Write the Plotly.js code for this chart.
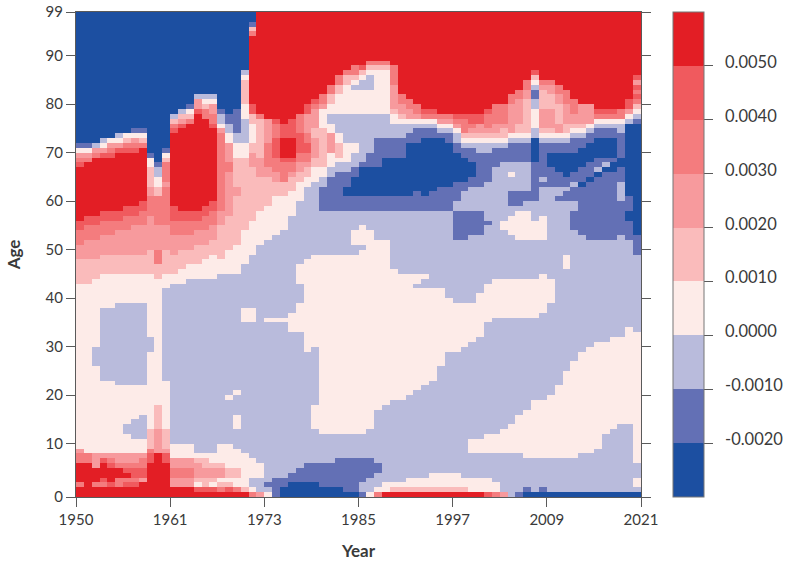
<!DOCTYPE html>
<html><head><meta charset="utf-8">
<script src="https://cdn.plot.ly/plotly-3.0.1.min.js"></script>
<style>html,body{margin:0;padding:0;background:#fff}</style></head>
<body><div id="chart" style="width:786px;height:561px"></div>
<script>
// Band index per age, one string per year. "L:A" = band L up to and including age A.
const bands1950to1961 = [
"8:1 6:2 8:6 6:8 5:9 3:43 4:48 5:51 6:54 7:56 8:67 7:68 6:69 5:70 3:71 1:72 0:99",
"8:6 6:8 3:43 4:48 5:52 6:55 7:57 8:68 6:69 5:70 3:71 1:72 0:99",
"8:1 6:2 8:5 5:8 3:26 2:30 3:44 4:48 5:52 6:55 7:57 8:69 6:70 5:71 2:72 0:99",
"8:1 6:2 7:3 8:6 7:7 5:8 3:23 2:38 3:45 4:49 5:53 6:56 7:58 8:69 7:70 5:71 3:72 2:73 0:99",
"8:1 7:2 8:5 7:6 6:7 5:8 3:23 2:38 3:45 4:49 5:53 6:56 7:58 8:69 7:70 6:71 5:72 3:73 0:99",
"8:1 6:3 8:5 6:6 5:8 3:22 2:39 3:45 4:49 5:54 6:56 7:58 8:70 7:71 5:72 3:73 2:74 0:99",
"8:1 7:2 6:3 8:4 7:5 6:6 5:8 3:12 2:14 3:22 2:39 3:45 4:49 5:54 6:57 7:59 8:70 7:71 6:72 4:73 3:74 0:99",
"8:1 7:2 6:3 7:5 6:6 5:8 3:11 2:15 3:22 2:39 3:45 4:49 5:55 6:57 7:59 8:70 7:71 6:72 5:73 3:74 1:75 0:99",
"8:2 5:3 7:5 6:7 5:8 3:11 2:16 3:22 2:39 3:45 4:49 5:55 6:58 7:60 8:71 6:72 4:73 3:74 1:75 0:99",
"8:6 7:8 6:9 4:13 3:29 2:32 3:45 4:50 5:57 6:61 5:63 4:67 3:69 1:70 0:99",
"8:8 5:13 4:18 3:44 4:47 6:50 5:55 6:61 4:63 3:65 2:67 1:68 0:99",
"8:6 7:8 5:9 4:13 3:23 2:42 3:45 4:50 5:55 6:63 5:64 6:68 4:69 3:70 1:71 0:99"
];
const bands1962to1973 = [
"8:1 5:3 6:5 5:7 3:10 2:43 3:45 4:49 5:53 6:56 7:59 8:74 7:75 6:76 4:77 2:78 0:99",
"8:1 5:3 6:5 5:7 3:10 2:43 3:46 4:50 5:53 6:56 7:58 8:75 7:76 5:77 4:78 2:79 0:99",
"8:1 5:3 6:5 5:7 3:10 2:44 3:47 4:50 5:53 6:56 7:58 8:76 6:77 4:78 3:79 1:80 0:99",
"8:0 7:1 3:2 4:3 5:6 4:7 3:8 2:44 3:47 4:51 5:54 6:56 7:58 8:78 7:79 5:81 2:82 0:99",
"8:0 7:1 4:3 5:5 4:7 3:8 2:44 3:48 4:51 5:54 6:57 7:59 8:77 6:79 4:80 3:81 2:82 0:99",
"8:0 7:1 3:2 4:3 5:5 4:6 3:8 2:44 3:49 4:52 5:55 6:58 7:60 8:75 7:76 6:78 5:80 3:81 2:82 0:99",
"8:0 6:1 4:2 3:3 5:5 4:6 3:10 2:45 3:48 4:55 5:58 6:74 5:75 3:76 2:78 1:79 0:99",
"8:0 7:1 4:2 3:3 4:5 3:10 2:19 3:20 2:45 3:50 4:57 5:66 6:68 5:72 3:74 2:76 1:78 0:99",
"8:0 6:1 3:3 4:5 3:9 2:13 3:16 2:20 3:21 2:45 3:51 4:61 5:63 4:69 3:72 2:74 1:79 0:99",
"8:0 4:1 3:8 2:35 3:38 2:47 3:54 4:69 3:72 2:77 3:80 4:85 3:86 2:87 0:99",
"6:0 3:1 2:3 3:7 2:35 3:38 2:49 3:56 4:67 5:70 4:72 3:76 4:78 7:80 8:94 6:95 4:96 1:97 0:99",
"5:0 2:3 3:6 2:51 3:58 4:65 5:69 4:77 6:78 8:99"
];
const bands1974to1985 = [
"3:0 2:1 1:2 2:35 3:36 2:52 3:59 4:65 5:67 6:72 5:77 8:99",
"1:3 2:35 3:36 2:53 3:61 4:64 5:66 6:69 7:73 6:76 7:77 8:99",
"0:1 1:3 2:35 3:36 2:54 3:61 4:64 6:68 7:69 8:73 7:76 8:99",
"0:2 1:4 2:33 3:37 2:57 3:62 4:65 5:66 6:68 7:69 8:73 7:77 8:99",
"0:2 1:5 2:33 3:39 2:43 3:47 2:60 3:64 4:66 5:68 6:70 7:74 6:78 8:99",
"0:2 1:6 2:29 3:48 2:63 3:65 4:67 5:68 6:70 7:72 6:74 5:78 7:80 8:99",
"0:2 1:6 2:13 3:18 2:30 3:49 2:64 3:67 4:69 5:73 4:75 5:79 6:80 7:81 8:99",
"0:1 1:6 2:12 3:49 2:58 1:63 2:65 3:67 4:75 3:79 5:80 6:82 8:99",
"0:1 1:6 2:12 3:49 2:58 1:65 2:67 3:70 5:74 3:76 2:78 3:80 4:82 6:84 8:99",
"0:1 1:7 2:12 3:49 2:58 1:66 2:68 3:69 4:72 3:74 2:78 3:82 4:84 6:86 8:99",
"0:0 1:7 2:12 3:49 2:58 1:61 0:63 1:66 2:68 3:72 2:78 3:84 4:86 6:87 8:99",
"0:0 1:7 2:12 3:49 2:51 3:54 2:58 1:61 0:65 1:67 2:70 3:72 2:78 3:83 2:84 3:85 4:86 6:88 8:99"
];
const bands1986to1997 = [
"1:0 2:2 1:7 2:12 3:50 2:51 3:55 2:58 1:61 0:67 1:68 2:78 3:83 2:85 3:86 4:87 7:88 8:99",
"3:0 2:3 1:7 2:13 3:54 2:58 1:61 0:67 1:70 2:78 3:83 2:86 3:87 4:88 6:89 8:99",
"6:0 3:1 2:4 1:6 2:17 3:52 2:58 1:61 0:67 1:73 2:78 3:87 4:88 6:89 8:99",
"8:0 3:2 2:18 3:52 2:58 1:61 0:69 1:73 2:78 3:87 4:88 6:89 8:99",
"8:0 4:1 3:2 2:19 3:46 2:58 1:61 0:69 1:73 2:76 3:78 4:79 5:84 6:88 8:99",
"8:0 4:1 3:2 2:19 3:45 2:58 1:61 0:69 1:73 2:76 3:77 4:78 5:80 6:82 8:99",
"8:0 4:1 3:3 2:20 3:45 2:58 1:61 0:72 1:74 2:76 3:77 5:79 6:81 8:99",
"8:0 4:1 3:3 2:21 3:42 2:43 3:45 2:58 1:62 0:72 1:75 2:76 3:77 5:78 6:80 8:99",
"8:0 4:1 3:3 2:22 3:42 2:44 3:45 2:58 1:61 0:73 1:75 2:76 3:77 6:78 7:79 8:99",
"8:0 4:1 3:4 2:23 3:42 2:58 1:62 0:73 1:75 2:76 3:77 6:78 7:79 8:99",
"8:0 4:1 3:4 2:26 3:42 2:58 1:63 0:73 1:74 2:75 3:76 5:77 6:78 8:99",
"8:0 4:1 3:4 2:29 3:40 2:58 1:63 0:72 1:74 2:75 3:76 5:77 6:78 8:99"
];
const bands1998to2009 = [
"8:0 4:1 3:4 2:29 3:39 2:52 1:58 2:60 1:64 0:70 1:72 2:74 3:75 5:76 6:77 7:78 8:99",
"8:0 4:1 3:3 2:30 3:39 2:52 1:58 2:62 1:64 0:69 1:71 2:72 3:73 4:74 6:77 7:78 8:99",
"8:0 3:3 2:8 3:11 2:31 3:39 2:53 1:58 2:63 1:65 0:68 1:71 2:72 3:73 4:74 5:75 6:76 7:78 8:99",
"8:0 3:3 2:8 3:11 2:32 3:41 2:53 1:58 2:63 1:70 2:72 3:73 4:74 5:76 7:78 8:99",
"7:0 3:3 2:8 3:12 2:35 3:43 2:55 1:56 2:64 1:70 2:72 3:73 4:74 5:75 6:78 7:79 8:99",
"6:0 3:2 2:8 3:12 2:36 3:44 2:67 1:71 2:72 3:73 4:74 5:76 6:80 8:99",
"5:0 2:8 3:13 2:36 3:44 2:54 3:56 2:68 1:71 2:72 3:73 4:75 5:76 6:80 8:99",
"2:8 3:14 2:36 3:44 2:53 3:57 2:59 1:62 2:65 3:66 2:68 1:72 2:73 3:74 5:80 6:82 8:99",
"1:0 2:8 3:16 2:36 3:44 2:52 3:58 2:59 1:62 2:68 1:72 2:73 3:74 4:76 5:81 6:83 8:99",
"0:0 1:1 2:7 3:17 2:36 3:44 2:52 3:58 2:60 1:62 2:68 1:72 2:73 3:74 4:81 5:83 6:85 8:99",
"0:0 2:7 3:19 2:36 3:44 2:52 3:56 2:60 1:68 0:73 2:75 3:79 2:81 1:83 2:84 3:85 4:86 7:87 8:99",
"0:0 1:1 2:7 3:19 2:37 3:45 2:52 3:57 2:63 1:64 2:65 1:72 2:73 3:74 4:75 5:79 4:83 5:84 6:85 8:99"
];
const bands2010to2021 = [
"0:0 2:7 3:20 2:39 3:44 2:63 1:67 0:70 1:72 2:73 3:74 4:75 5:79 4:82 5:84 6:85 8:99",
"0:0 2:7 3:22 2:60 1:61 2:63 1:66 0:70 1:72 2:73 3:74 5:76 4:80 5:82 6:84 8:99",
"0:0 2:7 3:25 2:46 3:49 2:60 1:62 2:63 1:65 0:70 1:72 2:73 3:74 4:76 5:80 6:83 8:99",
"0:0 2:7 3:27 2:54 1:58 2:60 1:63 2:64 1:66 0:70 1:73 2:74 3:75 4:76 5:78 6:81 8:99",
"0:0 2:8 3:29 2:53 1:63 0:64 1:67 0:71 1:73 2:74 3:75 4:76 5:80 8:99",
"0:0 2:8 3:30 2:52 1:64 0:65 1:68 0:72 1:74 2:75 3:76 5:80 8:99",
"0:0 2:9 3:31 2:52 1:65 0:66 2:67 1:69 0:73 1:75 2:76 3:77 6:78 7:79 8:99",
"0:0 2:12 3:31 2:52 1:66 0:67 2:68 1:69 0:73 1:75 2:76 3:77 6:78 7:79 8:99",
"0:0 2:13 3:32 2:52 1:66 0:68 1:69 0:73 1:75 2:76 3:77 6:78 7:79 8:99",
"0:0 2:14 3:32 2:53 1:60 2:64 1:67 0:69 1:74 2:76 3:77 6:79 8:99",
"0:0 2:14 3:34 2:52 1:56 0:58 1:61 0:76 2:77 3:78 5:79 7:81 8:99",
"0:0 2:1 3:3 2:6 3:33 2:49 1:53 0:76 1:77 2:78 3:79 4:80 6:81 7:82 6:83 7:84 5:85 7:86 8:99"
];
const bandValues = [-0.0025,-0.0015,-0.0005,0.0005,0.0015,0.0025,0.0035,0.0045,0.0055];
const bandColors = ["#1c4fa1","#6370b5","#b9bbdc","#fdebe8","#fabbbb","#f79a9d","#f47c7e","#f05a5e","#e31e25"];
const colorTicks = [-0.002,-0.001,0,0.001,0.002,0.003,0.004,0.005];
const colorTickText = ["-0.0020","-0.0010","0.0000","0.0010","0.0020","0.0030","0.0040","0.0050"];
const yearTickText = ["1950","1961","1973","1985","1997","2009","2021"];
const ageTickText = ["0","10","20","30","40","50","60","70","80","90","99"];

const columns = [].concat(bands1950to1961,bands1962to1973,bands1974to1985,bands1986to1997,bands1998to2009,bands2010to2021);
const years = columns.map((_,i)=>1950+i);
const ages = Array.from({length:100},(_,i)=>i);
const expanded = columns.map(s=>{
  const out=[]; 
  s.split(" ").forEach(p=>{const [l,a]=p.split(":").map(Number); while(out.length<=a) out.push(bandValues[l]);});
  return out;
});
const z = ages.map(a=>years.map((_,i)=>expanded[i][a]));
const zmin=-0.003, zmax=0.006, n=bandColors.length;
const scale=[]; bandColors.forEach((c,i)=>{scale.push([i/n,c]);scale.push([(i+1)/n,c]);});
const ink="#3a3a3a", rule="#5a5a5a";
const px=v=>(v-76)/565;
const frac=v=>(v-zmin)/(zmax-zmin);
const trace={type:"heatmap",x:years,y:ages,z:z,zmin:zmin,zmax:zmax,colorscale:scale,zsmooth:false,hoverongaps:false,
  colorbar:{x:px(673),xanchor:"left",xpad:0,ypad:0,y:0.5,len:1,lenmode:"fraction",thickness:31,thicknessmode:"pixels",
    tickmode:"array",tickvals:colorTicks,ticktext:colorTicks.map(()=>""),ticks:"outside",ticklen:9,tickwidth:1,tickcolor:rule,
    outlinewidth:1,outlinecolor:"#777",showticklabels:false}};
const yearTicks=yearTickText.map(t=>t==="1950"?1949.5:+t+0.5);
const ageTicks=ageTickText.map(t=>t==="0"?-0.5:+t+0.5);
const layout={width:786,height:561,margin:{l:76,r:145,t:12,b:64},paper_bgcolor:"#fff",plot_bgcolor:"#fff",
  font:{family:"Lato",size:15,color:ink},
  xaxis:{range:[1949.5,2021.5],tickmode:"array",tickvals:yearTicks,ticktext:yearTickText,ticks:"outside",ticklen:9,tickwidth:1,tickcolor:rule,
    showline:true,linecolor:rule,linewidth:1,mirror:true,showgrid:false,zeroline:false,tickfont:{family:"Lato",size:15,color:ink},
    title:{text:"<b>Year</b>",font:{family:"Lato",size:17,color:ink}}},
  yaxis:{range:[-0.5,99.5],tickmode:"array",tickvals:ageTicks,ticktext:ageTickText,ticks:"outside",ticklen:9,tickwidth:1,tickcolor:rule,
    showline:true,linecolor:rule,linewidth:1,mirror:"ticks",showgrid:false,zeroline:false,tickfont:{family:"Lato",size:15,color:ink},automargin:"width",
    title:{text:"<b>Age</b>",font:{family:"Lato",size:17,color:ink},standoff:20}},
  shapes:colorTicks.map(v=>({type:"line",xref:"paper",yref:"paper",x0:px(673),x1:px(704),y0:frac(v),y1:frac(v),line:{color:"#444",width:1}})),
  annotations:colorTicks.map((v,i)=>({xref:"paper",yref:"paper",x:px(723),y:frac(v),yshift:4,xanchor:"left",yanchor:"middle",showarrow:false,
    text:colorTickText[i],font:{family:"Lato",size:16.5,color:ink}}))
};
Plotly.newPlot("chart",[trace],layout,{displayModeBar:false,staticPlot:true});
</script></body></html>
